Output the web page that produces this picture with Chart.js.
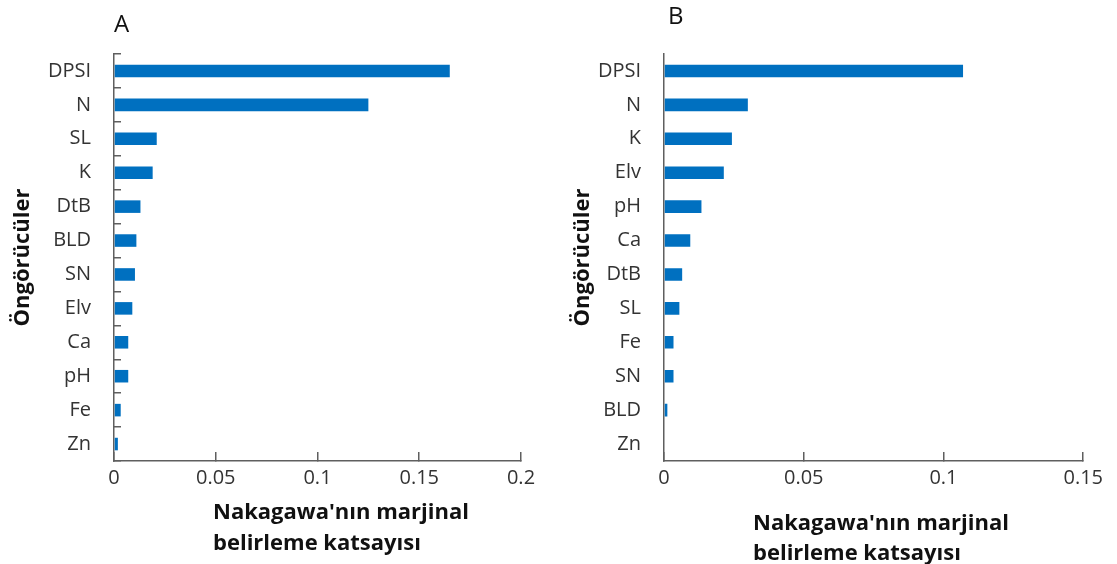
<!DOCTYPE html>
<html>
<head>
<meta charset="utf-8">
<script src="https://cdn.jsdelivr.net/npm/chart.js@4.4.1/dist/chart.umd.min.js"></script>
<style>
  html, body { margin: 0; padding: 0; background: #fff; }
  #wrap { position: relative; width: 1117px; height: 564px; }
  .panel { position: absolute; top: 0; height: 564px; }
</style>
</head>
<body>
<div id="wrap">
  <div class="panel" style="left:0;width:560px"><canvas id="cA"></canvas></div>
  <div class="panel" style="left:560px;width:557px"><canvas id="cB"></canvas></div>
</div>
<script>
// ---- data ----
const categoriesA = ['DPSI', 'N', 'SL', 'K', 'DtB', 'BLD', 'SN', 'Elv', 'Ca', 'pH', 'Fe', 'Zn'];
const valuesA = [0.165, 0.125, 0.021, 0.019, 0.013, 0.011, 0.0103, 0.009, 0.007, 0.007, 0.0033, 0.0019];
const xTicksA = ['0', '0.05', '0.1', '0.15', '0.2'];

const categoriesB = ['DPSI', 'N', 'K', 'Elv', 'pH', 'Ca', 'DtB', 'SL', 'Fe', 'SN', 'BLD', 'Zn'];
const valuesB = [0.107, 0.030, 0.0243, 0.0214, 0.0134, 0.0094, 0.0065, 0.0055, 0.0034, 0.0034, 0.0012, 0];
const xTicksB = ['0', '0.05', '0.1', '0.15'];

const yTitle = 'Öngörücüler';
const xTitleLines = ["Nakagawa'nın marjinal", 'belirleme katsayısı'];

const FONT = '"Open Sans"';
const BAR = '#0070C0';
const AXIS = '#5f5f5f';
const TXT = '#333333';

const textPlugin = {
  id: 'panelText',
  afterDraw(chart) {
    const o = chart.options.plugins.panelText;
    const ctx = chart.ctx;
    ctx.save();
    ctx.fillStyle = '#111';
    ctx.textAlign = 'left';
    ctx.textBaseline = 'middle';
    ctx.font = '24px ' + FONT;
    ctx.fillText(o.letter, o.letterX, o.letterY);
    ctx.font = 'bold 22px ' + FONT;
    o.lines.forEach((t, i) => ctx.fillText(t, o.titleX, o.titleY + i * o.lineGap));
    ctx.restore();
  }
};

function makeChart(id, cats, vals, xmax, ticksLbl, opt) {
  return new Chart(document.getElementById(id), {
    type: 'bar',
    data: {
      labels: cats,
      datasets: [{ data: vals, backgroundColor: BAR, borderWidth: 0,
                   categoryPercentage: 1, barPercentage: 0.37 }]
    },
    options: {
      indexAxis: 'y',
      responsive: true,
      maintainAspectRatio: false,
      animation: false,
      layout: { padding: { top: 54, right: opt.padRight, bottom: 0, left: 0 } },
      plugins: {
        legend: { display: false },
        tooltip: { enabled: false },
        panelText: opt.text
      },
      scales: {
        x: {
          type: 'linear', min: 0, max: xmax,
          border: { display: true, color: AXIS, width: 1.5 },
          grid: { drawOnChartArea: false, drawTicks: true, tickLength: -9, color: AXIS, lineWidth: 1.5 },
          ticks: { stepSize: 0.05, padding: 14, color: TXT, font: { family: FONT, size: 20 },
                   maxRotation: 0, callback: (v, i) => ticksLbl[i] },
          afterFit(s) { s.height = 103; }
        },
        y: {
          border: { display: true, color: AXIS, width: 1.5 },
          grid: { drawOnChartArea: false, drawTicks: opt.yTicks, tickLength: -7, color: AXIS, lineWidth: 1.5, offset: true },
          ticks: { padding: opt.yTicks ? 30 : 23, color: TXT, font: { family: FONT, size: 20 } },
          title: { display: true, text: yTitle, color: '#111', font: { family: FONT, size: 22, weight: 'bold' },
                   padding: { top: 10, bottom: 0 } },
          afterFit(s) { s.width = opt.yWidth; }
        }
      }
    },
    plugins: [textPlugin]
  });
}

makeChart('cA', categoriesA, valuesA, 0.2, xTicksA, {
  padRight: 39, yWidth: 114, yTicks: true,
  text: { letter: 'A', letterX: 114, letterY: 25, lines: xTitleLines, titleX: 213, titleY: 513, lineGap: 31 }
});
makeChart('cB', categoriesB, valuesB, 0.15, xTicksB, {
  padRight: 28, yWidth: 104, yTicks: false,
  text: { letter: 'B', letterX: 108, letterY: 17, lines: xTitleLines, titleX: 193, titleY: 524, lineGap: 30 }
});
</script>
</body>
</html>
